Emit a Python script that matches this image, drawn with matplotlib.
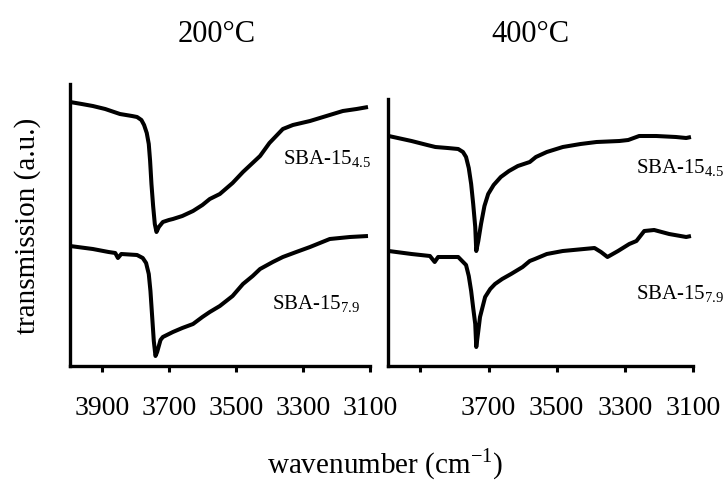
import matplotlib
matplotlib.use("Agg")
import matplotlib.pyplot as plt

plt.rcParams['font.family'] = ['Liberation Serif', 'DejaVu Serif']
plt.rcParams['mathtext.fontset'] = 'custom'
plt.rcParams['mathtext.rm'] = 'Liberation Serif'

# ---- data (arbitrary transmission units) ----
wn_200_45 = [3995, 3960, 3927, 3890, 3846, 3810, 3795, 3782, 3774, 3766, 3760, 3756,
             3752, 3747, 3742, 3737, 3730, 3718, 3700, 3688, 3660, 3628, 3600, 3578,
             3548, 3510, 3479, 3428, 3400, 3360, 3330, 3279, 3230, 3181, 3140, 3106]
tr_200_45 = [264, 262, 260, 257, 252, 250, 249, 246, 241, 233, 222, 205,
             182, 160, 142, 134, 139, 144, 146, 147, 150, 155, 161, 167,
             172, 183, 194, 210, 223, 237, 241, 245, 250, 255, 257, 259]

wn_200_79 = [3995, 3927, 3880, 3860, 3852, 3842, 3795, 3778, 3768, 3760, 3755, 3750,
             3745, 3740, 3735, 3725, 3718, 3700, 3688, 3660, 3628, 3600, 3578, 3548,
             3510, 3479, 3450, 3428, 3390, 3360, 3320, 3279, 3220, 3160, 3106]
tr_200_79 = [120, 117, 114, 113, 108, 112, 111, 108, 103, 92, 75, 50,
             25, 10, 14, 26, 29, 32, 34, 38, 42, 49, 54, 60,
             70, 82, 90, 97, 104, 109, 114, 119, 127, 129, 130]

wn_400_45 = [3993, 3926, 3880, 3856, 3820, 3789, 3775, 3766, 3758, 3751, 3745, 3739,
             3736, 3730, 3722, 3712, 3701, 3685, 3664, 3640, 3614, 3579, 3561, 3529,
             3482, 3430, 3383, 3316, 3290, 3258, 3208, 3150, 3120, 3106]
tr_400_45 = [230, 225, 221, 219, 218, 217, 214, 209, 198, 182, 162, 139,
             115, 125, 142, 160, 172, 181, 189, 195, 200, 204, 209, 214,
             219, 222, 224, 225, 226, 230, 230, 229, 228, 229]

wn_400_79 = [3993, 3926, 3872, 3858, 3848, 3789, 3766, 3758, 3751, 3745, 3739, 3736,
             3730, 3725, 3710, 3695, 3681, 3660, 3634, 3600, 3579, 3564, 3529, 3482,
             3420, 3389, 3370, 3351, 3320, 3287, 3266, 3243, 3214, 3170, 3120, 3106]
tr_400_79 = [115, 112, 110, 104, 109, 109, 101, 90, 75, 58, 42, 19,
             35, 49, 69, 77, 82, 87, 92, 99, 105, 107, 112, 115,
             117, 118, 114, 109, 115, 122, 125, 135, 136, 132, 129, 130]

ticks = [3900, 3700, 3500, 3300, 3100]
tick_labels_200 = ['3900', '3700', '3500', '3300', '3100']
tick_labels_400 = ['', '3700', '3500', '3300', '3100']
titles = ['200°C', '400°C']
label_45 = r'SBA-15$_{\mathregular{4.5}}$'
label_79 = r'SBA-15$_{\mathregular{7.9}}$'

W, H = 725, 481
fig = plt.figure(figsize=(W / 100, H / 100), dpi=100)

def px_axes(x0, x1, ytop, ybot):
    return fig.add_axes([x0 / W, 1 - ybot / H, (x1 - x0) / W, (ybot - ytop) / H])

ax1 = px_axes(70, 370, 85, 367)
ax2 = px_axes(388, 693, 85, 367)

for ax, labels in ((ax1, tick_labels_200), (ax2, tick_labels_400)):
    ax.set_xlim(3995, 3100)
    ax.set_ylim(0, 282)
    ax.set_xticks(ticks)
    ax.set_xticklabels(labels, fontsize=20)
    ax.set_yticks([])
    for s in ('top', 'right'):
        ax.spines[s].set_visible(False)
    for s in ('left', 'bottom'):
        ax.spines[s].set_linewidth(2.4)
        ax.spines[s].set_capstyle('projecting')
    ax.tick_params(axis='x', direction='out', length=4, width=2.2, pad=17)

ax2.spines['left'].set_bounds(0, 267)

lw = 2.9
for ax, wn, tr in ((ax1, wn_200_45, tr_200_45), (ax1, wn_200_79, tr_200_79),
                   (ax2, wn_400_45, tr_400_45), (ax2, wn_400_79, tr_400_79)):
    ax.plot(wn, tr, color='black', lw=lw, solid_joinstyle='round', solid_capstyle='butt')

fs_lab = 15
ax1.text(3360, 208, label_45, fontsize=fs_lab, ha='left', va='center')
ax1.text(3393, 63, label_79, fontsize=fs_lab, ha='left', va='center')
ax2.text(3266, 199, label_45, fontsize=fs_lab, ha='left', va='center', clip_on=False)
ax2.text(3266, 73, label_79, fontsize=fs_lab, ha='left', va='center', clip_on=False)

fig.text(217 / W, 1 - 35 / H, titles[0], fontsize=22, ha='center', va='center')
fig.text(530 / W, 1 - 35 / H, titles[1], fontsize=22, ha='center', va='center')
fig.text(28 / W, 1 - 226 / H, 'transmission (a.u.)', fontsize=21, rotation=90,
         ha='center', va='center')
fig.text(385 / W, 1 - 464 / H, r'wavenumber (cm$^{\mathregular{-1}}$)', fontsize=21,
         ha='center', va='center')

fig.savefig('out.png', dpi=100)
